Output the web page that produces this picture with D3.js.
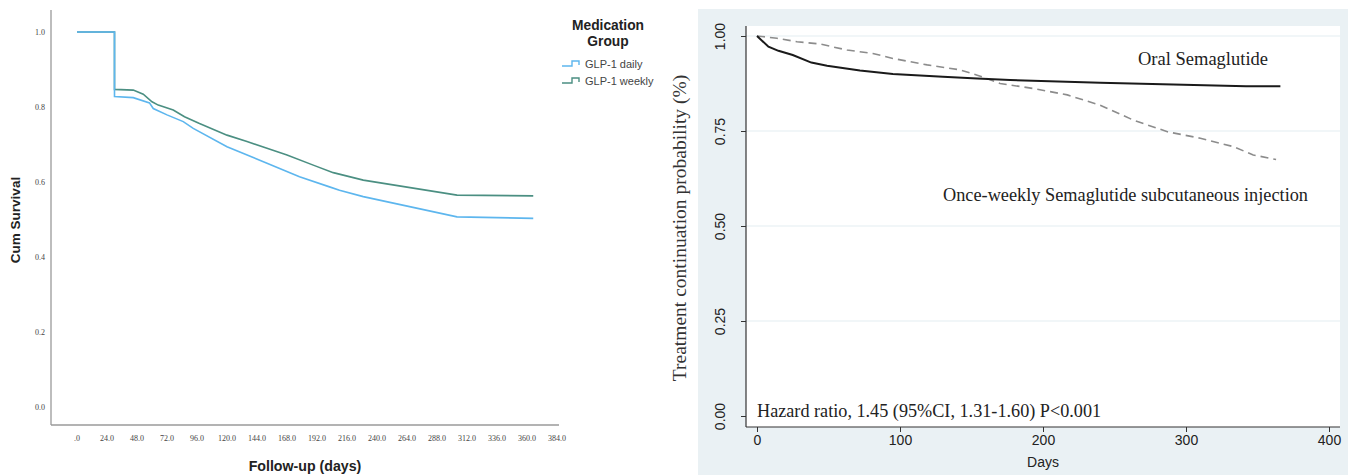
<!DOCTYPE html>
<html><head><meta charset="utf-8">
<script src="https://cdn.jsdelivr.net/npm/d3@7"></script>
<style>body{margin:0;background:#fff}svg{display:block}</style>
</head><body>
<svg id="c" width="1356" height="475"></svg>
<script>
// ---------- Left panel data (Kaplan-Meier, SPSS style) ----------
const leftDailyDays  = [0, 30, 30, 45, 58, 61, 72, 85, 93, 120, 152, 178, 202, 210, 229, 304, 365];
const leftDailySurv  = [1.0, 1.0, 0.828, 0.825, 0.811, 0.796, 0.779, 0.761, 0.743, 0.694, 0.650, 0.614, 0.587, 0.578, 0.561, 0.507, 0.503];
const leftWeeklyDays = [0, 30, 30, 45, 53, 60, 65, 77, 86, 98, 120, 136, 152, 168, 189, 205, 229, 304, 365];
const leftWeeklySurv = [1.0, 1.0, 0.847, 0.845, 0.834, 0.814, 0.805, 0.792, 0.774, 0.756, 0.725, 0.708, 0.690, 0.672, 0.645, 0.625, 0.605, 0.565, 0.563];
const leftXTicks = [0, 24, 48, 72, 96, 120, 144, 168, 192, 216, 240, 264, 288, 312, 336, 360, 384];
const leftYTicks = [0, 0.2, 0.4, 0.6, 0.8, 1.0];
const leftGroups = ["GLP-1 daily", "GLP-1 weekly"];

// ---------- Right panel data (Stata style) ----------
const oralDays = [0, 8, 15, 25, 38, 49, 72, 95, 130, 154, 177, 240, 342, 366];
const oralSurv = [1.0, 0.972, 0.961, 0.950, 0.930, 0.922, 0.909, 0.900, 0.893, 0.888, 0.884, 0.877, 0.868, 0.868];
const weeklyDays = [0, 14, 28, 44, 63, 81, 95, 119, 142, 154, 170, 193, 217, 240, 263, 287, 310, 333, 347, 363];
const weeklySurv = [1.0, 0.994, 0.985, 0.979, 0.963, 0.954, 0.941, 0.924, 0.911, 0.897, 0.875, 0.862, 0.845, 0.818, 0.779, 0.748, 0.731, 0.709, 0.687, 0.675];
const rightXTicks = [0, 100, 200, 300, 400];
const rightYTicks = [0, 0.25, 0.5, 0.75, 1.0];

const svg = d3.select("#c");
const sans = "Liberation Sans, Arial, sans-serif";
const serif = "Liberation Serif, 'Times New Roman', serif";

// ================= LEFT PANEL =================
{
  const x = d3.scaleLinear().domain([0, 384]).range([77, 557]);
  const y = d3.scaleLinear().domain([0, 1]).range([407, 32]);
  const g = svg.append("g");
  g.append("line").attr("x1", 51).attr("x2", 51).attr("y1", 10).attr("y2", 425).attr("stroke", "#9a9a9a").attr("stroke-width", 1.3);
  g.append("line").attr("x1", 51).attr("x2", 559).attr("y1", 425).attr("y2", 425).attr("stroke", "#9a9a9a").attr("stroke-width", 1.3);
  g.selectAll("text.yl").data(leftYTicks).join("text").attr("class", "yl")
    .attr("x", 45).attr("y", d => y(d)).attr("dy", "0.35em").attr("text-anchor", "end")
    .attr("font-family", serif).attr("font-size", 8).attr("fill", "#444")
    .text(d => d.toFixed(1));
  g.selectAll("text.xl").data(leftXTicks).join("text").attr("class", "xl")
    .attr("x", d => x(d)).attr("y", 438).attr("dy", "0.35em").attr("text-anchor", "middle")
    .attr("font-family", serif).attr("font-size", 8).attr("fill", "#444")
    .text(d => d === 0 ? ".0" : d.toFixed(1));
  g.append("text").attr("transform", "translate(20,220) rotate(-90)").attr("text-anchor", "middle")
    .attr("font-family", sans).attr("font-weight", "bold").attr("font-size", 13.5).attr("fill", "#222")
    .text("Cum Survival");
  g.append("text").attr("x", 305).attr("y", 471).attr("text-anchor", "middle")
    .attr("font-family", sans).attr("font-weight", "bold").attr("font-size", 14.2).attr("fill", "#222")
    .text("Follow-up (days)");
  const line = d3.line().x(d => x(d[0])).y(d => y(d[1]));
  const colors = ["#5db6ee", "#4b8f82"];
  g.append("path").datum(d3.zip(leftWeeklyDays, leftWeeklySurv)).attr("d", line)
    .attr("fill", "none").attr("stroke", colors[1]).attr("stroke-width", 1.6);
  g.append("path").datum(d3.zip(leftDailyDays, leftDailySurv)).attr("d", line)
    .attr("fill", "none").attr("stroke", colors[0]).attr("stroke-width", 1.6);
  g.append("text").attr("x", 608).attr("y", 30).attr("text-anchor", "middle")
    .attr("font-family", sans).attr("font-weight", "bold").attr("font-size", 13.8).attr("fill", "#222")
    .text("Medication");
  g.append("text").attr("x", 608).attr("y", 46).attr("text-anchor", "middle")
    .attr("font-family", sans).attr("font-weight", "bold").attr("font-size", 13.8).attr("fill", "#222")
    .text("Group");
  leftGroups.forEach((name, i) => {
    const yy = 64 + i * 17;
    g.append("path").attr("d", `M562,${yy+2} H572 V${yy-3} H579 V${yy+1}`)
      .attr("fill", "none").attr("stroke", colors[i]).attr("stroke-width", 1.4);
    g.append("text").attr("x", 585).attr("y", yy).attr("dy", "0.35em")
      .attr("font-family", sans).attr("font-size", 11).attr("fill", "#444")
      .text(name);
  });
}

// ================= RIGHT PANEL =================
{
  const x = d3.scaleLinear().domain([0, 400]).range([757, 1329]);
  const y = d3.scaleLinear().domain([0, 1]).range([416, 36]);
  const g = svg.append("g");
  g.append("rect").attr("x", 698).attr("y", 9).attr("width", 650).attr("height", 466).attr("fill", "#eaf1f4");
  g.append("rect").attr("x", 746).attr("y", 26).attr("width", 594).attr("height", 401).attr("fill", "#ffffff");
  g.selectAll("line.grid").data(rightYTicks.filter(d => d > 0)).join("line").attr("class", "grid")
    .attr("x1", 746).attr("x2", 1340).attr("y1", d => y(d)).attr("y2", d => y(d))
    .attr("stroke", "#e3eef1").attr("stroke-width", 1.2);
  const yAxis = d3.axisLeft(y).tickValues(rightYTicks).tickSize(5).tickFormat(d3.format(".2f"));
  const ya = g.append("g").attr("transform", "translate(746,0)").call(yAxis);
  ya.select(".domain").attr("d", "M0,26V427").attr("stroke", "#333").attr("stroke-width", 1.2);
  ya.selectAll(".tick line").attr("stroke", "#333");
  ya.selectAll(".tick text").attr("transform", "rotate(-90)").attr("x", 0).attr("y", -21).attr("dy", 0)
    .attr("text-anchor", "middle").attr("font-family", sans).attr("font-size", 14).attr("fill", "#222");
  const xAxis = d3.axisBottom(x).tickValues(rightXTicks).tickSize(5);
  const xa = g.append("g").attr("transform", "translate(0,427)").call(xAxis);
  xa.select(".domain").attr("d", "M746,0H1340").attr("stroke", "#333").attr("stroke-width", 1.2);
  xa.selectAll(".tick line").attr("stroke", "#333");
  xa.selectAll(".tick text").attr("y", 8).attr("font-family", sans).attr("font-size", 14).attr("fill", "#222");
  g.append("text").attr("x", x(200)).attr("y", 467).attr("text-anchor", "middle")
    .attr("font-family", sans).attr("font-size", 14).attr("fill", "#222").text("Days");
  g.append("text").attr("transform", "translate(686,228) rotate(-90)").attr("text-anchor", "middle")
    .attr("font-family", serif).attr("font-size", 19.5).attr("fill", "#333")
    .text("Treatment continuation probability (%)");
  const line = d3.line().x(d => x(d[0])).y(d => y(d[1]));
  g.append("path").datum(d3.zip(weeklyDays, weeklySurv)).attr("d", line)
    .attr("fill", "none").attr("stroke", "#8c8c8c").attr("stroke-width", 1.6).attr("stroke-dasharray", "8,5");
  g.append("path").datum(d3.zip(oralDays, oralSurv)).attr("d", line)
    .attr("fill", "none").attr("stroke", "#1a1a1a").attr("stroke-width", 2);
  g.append("text").attr("x", 1138).attr("y", 65).attr("font-family", serif).attr("font-size", 18.5).attr("fill", "#222").text("Oral Semaglutide");
  g.append("text").attr("x", 943).attr("y", 201).attr("font-family", serif).attr("font-size", 18.3).attr("fill", "#222").text("Once-weekly Semaglutide subcutaneous injection");
  g.append("text").attr("x", 757).attr("y", 417).attr("font-family", serif).attr("font-size", 18.2).attr("fill", "#222").text("Hazard ratio, 1.45 (95%CI, 1.31-1.60) P<0.001");
}
</script>
</body></html>
